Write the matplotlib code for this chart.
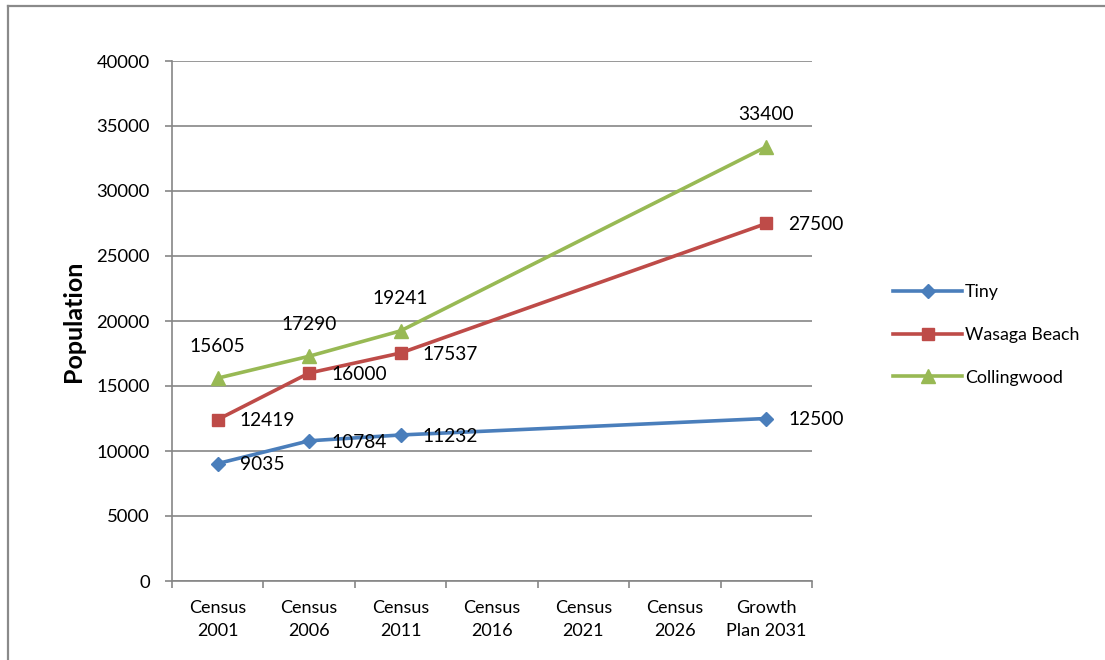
import numpy as np
import matplotlib
matplotlib.use("Agg")
import matplotlib.pyplot as plt
from matplotlib.lines import Line2D

categories = ["Census\n2001", "Census\n2006", "Census\n2011", "Census\n2016",
              "Census\n2021", "Census\n2026", "Growth\nPlan 2031"]
tiny = [9035, 10784, 11232, None, None, None, 12500]
wasaga = [12419, 16000, 17537, None, None, None, 27500]
collingwood = [15605, 17290, 19241, None, None, None, 33400]
series_names = ["Tiny", "Wasaga Beach", "Collingwood"]
y_ticks = [0, 5000, 10000, 15000, 20000, 25000, 30000, 35000, 40000]

plt.rcParams['font.family'] = ['Lato', 'DejaVu Sans']
fig = plt.figure(figsize=(11.05, 6.6), dpi=100)
ax = fig.add_axes([172/1105, 1-581/660, 640/1105, 520/660])

grid_c = "#868686"
styles = [
    dict(color="#4A7EBB", marker="D", ms=7.5, lab="right"),
    dict(color="#BE4B48", marker="s", ms=9, lab="right"),
    dict(color="#98B954", marker="^", ms=10, lab="above"),
]
for name, vals, st in zip(series_names, [tiny, wasaga, collingwood], styles):
    xs = [i for i, v in enumerate(vals) if v is not None]
    ys = [v for v in vals if v is not None]
    ax.plot(xs, ys, color=st["color"], lw=2.6, marker=st["marker"], ms=st["ms"],
            mec=st["color"], mfc=st["color"], label=name, zorder=3)
    for x, y in zip(xs, ys):
        if st["lab"] == "right":
            ax.annotate(str(y), (x, y), xytext=(16, -1), textcoords="offset points",
                        ha="left", va="center", fontsize=13.8, color="black")
        else:
            ax.annotate(str(y), (x, y), xytext=(0, 23), textcoords="offset points",
                        ha="center", va="center", fontsize=13.8, color="black")

ax.set_xlim(-0.5, 6.5)
ax.set_ylim(0, 40000)
ax.set_yticks(y_ticks)
ax.set_yticklabels([str(v) for v in y_ticks], fontsize=13.3)
ax.set_xticks(range(len(categories)))
ax.set_xticklabels(categories, fontsize=13, linespacing=1.5)
ax.tick_params(axis="x", length=0, pad=14)
ax.set_xticks(np.arange(-0.5, 7.0, 1.0), minor=True)
ax.tick_params(axis="x", which="minor", length=5, color=grid_c, width=1.2, direction="out")
ax.tick_params(axis="y", length=5, color=grid_c, width=1.2, direction="out", pad=11)
ax.yaxis.grid(True, color=grid_c, lw=1.2)
ax.set_axisbelow(True)
for s in ["top", "right"]:
    ax.spines[s].set_visible(False)
for s in ["left", "bottom"]:
    ax.spines[s].set_color(grid_c)
    ax.spines[s].set_linewidth(1.2)

ax.set_ylabel("Population", fontsize=18, fontweight="bold", labelpad=8)

leg = fig.legend(loc="center left", bbox_to_anchor=(877/1105, 1-335/660), frameon=False,
                 fontsize=12.8, handlelength=3.9, handletextpad=0.15, labelspacing=1.5)

# chart frame
fig.add_artist(Line2D([8/1105, 8/1105], [0, 1-6/660], transform=fig.transFigure,
                      color="#8a8a8a", lw=1.6))
fig.add_artist(Line2D([8/1105, 1], [1-6/660, 1-6/660], transform=fig.transFigure,
                      color="#8a8a8a", lw=1.6))

fig.savefig("out.png", dpi=100)
